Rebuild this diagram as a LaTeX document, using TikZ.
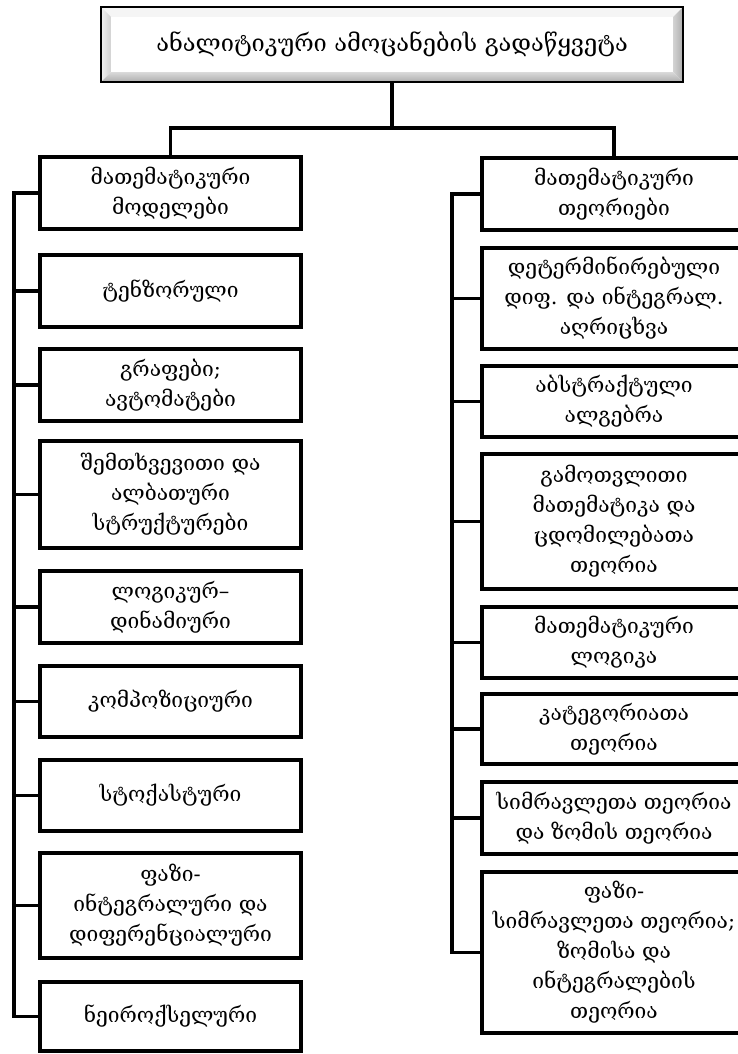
\documentclass[tikz,border=0pt]{standalone}
\usepackage{fontspec}
\setmainfont{DejaVu Serif}
\usetikzlibrary{calc}
\begin{document}
\begin{tikzpicture}[x=1pt,y=-1pt,
  box/.style={draw=black,line width=3.2pt,align=center,inner sep=0pt,fill=white,
              font=\fontsize{21}{30}\selectfont},
  lbox/.style={box,minimum width=261pt},
  rbox/.style={box,minimum width=264pt},
  conn/.style={draw=black,line width=3.2pt,line join=miter}]
\useasboundingbox (0,0) rectangle (738,1054);
\clip (0,0) rectangle (738,1054);

% top box with bevel
\node[minimum width=582pt,minimum height=75pt,inner sep=0pt,fill=white,
      font=\fontsize{23.6}{30}\selectfont] (T) at (392,44.5)
      {ანალიტიკური ამოცანების გადაწყვეტა};
\fill[gray!8] (T.north west) -- (T.north east) -- ($(T.north east)+(-10,10)$) -- ($(T.north west)+(10,10)$) -- cycle;
\shade[left color=gray!10,right color=gray!35] (T.north west) -- ($(T.north west)+(10,10)$) -- ($(T.south west)+(10,-10)$) -- (T.south west) -- cycle;
\shade[left color=gray!35,right color=gray!65] (T.north east) -- (T.south east) -- ($(T.south east)+(-10,-10)$) -- ($(T.north east)+(-10,10)$) -- cycle;
\shade[top color=gray!30,bottom color=gray!65] (T.south west) -- (T.south east) -- ($(T.south east)+(-10,-10)$) -- ($(T.south west)+(10,-10)$) -- cycle;
\draw[line width=2.4pt] (T.north west) rectangle (T.south east);

% left column
\node[lbox,minimum height=72pt]  (L1) at (170.5,193)   {მათემატიკური\\მოდელები};
\node[lbox,minimum height=72pt]  (L2) at (170.5,291)   {ტენზორული};
\node[lbox,minimum height=72pt]  (L3) at (170.5,385)   {გრაფები;\\ავტომატები};
\node[lbox,minimum height=107pt] (L4) at (170.5,494.5) {შემთხვევითი და\\ალბათური\\სტრუქტურები};
\node[lbox,minimum height=72pt]  (L5) at (170.5,607)   {ლოგიკურ–\\დინამიური};
\node[lbox,minimum height=71pt]  (L6) at (170.5,701.5) {კომპოზიციური};
\node[lbox,minimum height=71pt]  (L7) at (170.5,795.5) {სტოქასტური};
\node[lbox,minimum height=105pt] (L8) at (170.5,905.5) {ფაზი-\\ინტეგრალური და\\დიფერენციალური};
\node[lbox,minimum height=69pt]  (L9) at (170.5,1016.5) {ნეიროქსელური};

% right column
\node[rbox,minimum height=72pt]  (R1) at (614,194)   {მათემატიკური\\თეორიები};
\node[rbox,minimum height=101pt] (R2) at (614,298.5) {დეტერმინირებული\\დიფ. და ინტეგრალ.\\აღრიცხვა};
\node[rbox,minimum height=71pt]  (R3) at (614,401.5) {აბსტრაქტული\\ალგებრა};
\node[rbox,minimum height=135pt] (R4) at (614,521.5) {გამოთვლითი\\მათემატიკა და\\ცდომილებათა\\თეორია};
\node[rbox,minimum height=71pt]  (R5) at (614,642.5) {მათემატიკური\\ლოგიკა};
\node[rbox,minimum height=70pt]  (R6) at (614,729)   {კატეგორიათა\\თეორია};
\node[rbox,minimum height=72pt]  (R7) at (614,818)   {სიმრავლეთა თეორია\\და ზომის თეორია};
\node[rbox,minimum height=161pt] (R8) at (614,952.5) {ფაზი-\\სიმრავლეთა თეორია;\\ზომისა და\\ინტეგრალების\\თეორია};

% connectors
\coordinate (hb) at (392,128);
\coordinate (ls) at (14,0);
\coordinate (rs) at (452,0);
\draw[conn] (T.south) -- (hb);
\draw[conn] (L1.north) -- (L1.north |- hb) -- (R1.north |- hb) -- (R1.north);
\draw[conn] (L1.west) -- (ls |- L1.west) -- (ls |- L9.west) -- (L9.west);
\foreach \n in {L2,L3,L4,L5,L6,L7,L8} \draw[conn] (ls |- \n.west) -- (\n.west);
\draw[conn] (R1.west) -- (rs |- R1.west) -- (rs |- R8.west) -- (R8.west);
\foreach \n in {R2,R3,R4,R5,R6,R7} \draw[conn] (rs |- \n.west) -- (\n.west);
\end{tikzpicture}
\end{document}
